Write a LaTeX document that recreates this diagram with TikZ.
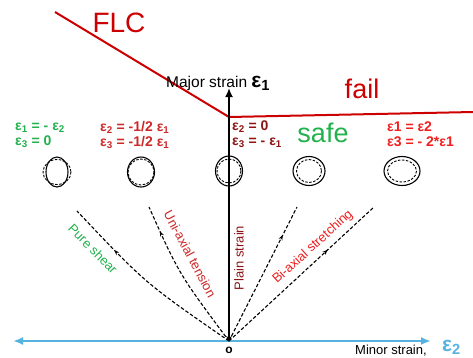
\documentclass[tikz,border=0pt]{standalone}
\usepackage{fontspec}
\setmainfont{Liberation Sans}
\usetikzlibrary{arrows.meta,decorations.markings}
\definecolor{flcred}{RGB}{204,0,0}
\definecolor{axblue}{RGB}{86,178,222}
\definecolor{sgreen}{RGB}{34,177,76}
\definecolor{eqred}{RGB}{205,40,40}
\definecolor{eqdark}{RGB}{140,20,20}
\definecolor{eqbright}{RGB}{240,30,30}
\newcommand{\fsz}[1]{\fontsize{#1}{#1}\selectfont}
\tikzset{
  redline/.style={draw=flcred, line width=2pt},
  path/.style={draw=black, line width=1.1pt, dash pattern=on 3.5pt off 2pt},
  pathmark/.style={postaction={decorate}, decoration={markings, mark=at position #1 with {\arrow{Stealth[length=5pt,width=4pt]}}}},
  eqn/.style={anchor=west, align=left, font=\bfseries\fontsize{14}{15}\selectfont, inner sep=0pt},
  lbl/.style={font=\fsz{13}, inner sep=0pt},
  grid/.style={draw=black, line width=0.9pt, dash pattern=on 2.5pt off 1.5pt},
  deformed/.style={draw=black, line width=1.1pt}
}
\begin{document}
\begin{tikzpicture}[x=1pt,y=-1pt]
\useasboundingbox (0,0) rectangle (473,357);
% key points
\coordinate (O) at (229,341);
\coordinate (top) at (229,88);
\coordinate (L) at (13,341);
\coordinate (R) at (431,341);
\coordinate (flcA) at (55,12);
\coordinate (knee) at (229,117);
\coordinate (flcB) at (473,112);
\coordinate (PS) at (77,211);
\coordinate (UT) at (149,207);
\coordinate (PN) at (297,207);
\coordinate (BS) at (374,207);
% blue minor-strain axis
\draw[axblue, line width=2.4pt, {Latex[length=10pt,width=8pt]}-{Latex[length=10pt,width=8pt]}] (L) -- (R);
% FLC
\draw[redline] (flcA) -- (knee) -- (flcB);
% strain paths
\draw[path, pathmark=0.73] (O) .. controls (145,283) .. (PS);
\draw[path, pathmark=0.83] (O) .. controls (179,274) .. (UT);
\draw[path, pathmark=0.79] (O) -- (PN);
\draw[path, pathmark=0.68] (O) -- (BS);
% major strain axis
\draw[black, line width=2.6pt, {Stealth[length=5pt,width=6pt]}-{Latex[length=9pt,width=8pt]}] (O) -- (top);
% circles
\coordinate (c1) at (57,172);
\coordinate (c2) at (141,172);
\coordinate (c3) at (229,171);
\coordinate (c4) at (309,171);
\coordinate (c5) at (402,171);
\draw[deformed] (c1) ellipse [x radius=11, y radius=15];
\draw[grid] (c1) ellipse [x radius=14, y radius=12.5];
\draw[deformed] (c2) ellipse [x radius=13.5, y radius=15];
\draw[grid] (c2) ellipse [x radius=13, y radius=13];
\draw[deformed] (c3) ellipse [x radius=13.5, y radius=15];
\draw[grid] (c3) ellipse [x radius=12, y radius=12];
\draw[deformed] (c4) ellipse [x radius=16, y radius=14.5];
\draw[grid] (c4) ellipse [x radius=12.5, y radius=11.5];
\draw[deformed] (c5) ellipse [x radius=18, y radius=14.5];
\draw[grid] (c5) ellipse [x radius=14.5, y radius=11];
% big labels
\node[text=flcred, font=\fsz{28}, anchor=base, inner sep=0pt] (flc) at (119,32) {FLC};
\node[text=flcred, font=\fsz{27}, anchor=base, inner sep=0pt] (fail) at (362,98) {fail};
\node[text=sgreen, font=\fsz{27}, anchor=base, inner sep=0pt] (safe) at (323,142) {safe};
% axis labels
\node[anchor=base west, font=\fsz{15.5}, inner sep=0pt] (major) at (166,87) {Major strain {\bfseries\fsz{21}ε\textsubscript{1}}};
\node[anchor=base west, font=\fsz{13}, inner sep=0pt] (minor) at (355,354) {Minor strain,};
\node[anchor=base west, text=axblue, font=\bfseries\fsz{21}, inner sep=0pt] (e2) at (442,351) {ε\textsubscript{2}};
\node[font=\bfseries\fsz{12}, inner sep=0pt] (o) at (229,350) {o};
% equations
\node[eqn, text=sgreen] (eq1) at (15,135) {ε\textsubscript{1} = - ε\textsubscript{2}\\ε\textsubscript{3} = 0};
\node[eqn, text=eqred] (eq2) at (100,135) {ε\textsubscript{2} = -1/2 ε\textsubscript{1}\\ε\textsubscript{3} = -1/2 ε\textsubscript{1}};
\node[eqn, text=eqdark] (eq3) at (232,134) {ε\textsubscript{2} = 0\\ε\textsubscript{3} = - ε\textsubscript{1}};
\node[eqn, text=eqbright] (eq4) at (387,134) {ε1 = ε2\\ε3 = - 2*ε1};
% path labels
\node[lbl, text=sgreen, rotate=-45.5] (pslbl) at (93,249) {Pure shear};
\node[lbl, text=eqred, rotate=-62] (utlbl) at (190,254) {Uni-axial tension};
\node[lbl, text=eqdark, rotate=90] (pnlbl) at (239,258) {Plain strain};
\node[lbl, text=eqbright, rotate=42] (bslbl) at (313,247) {Bi-axial stretching};
\end{tikzpicture}
\end{document}
